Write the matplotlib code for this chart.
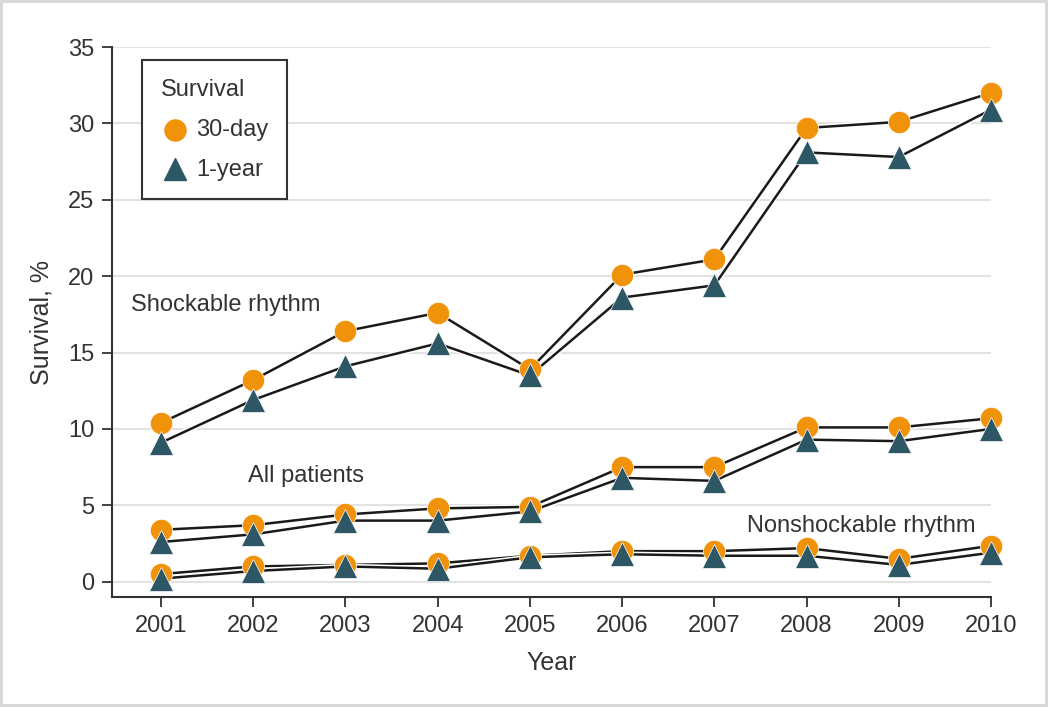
import numpy as np
import matplotlib
matplotlib.use("Agg")
import matplotlib.pyplot as plt
import matplotlib.patheffects as pe

plt.rcParams['font.family'] = ['Liberation Sans', 'DejaVu Sans']

years = [2001, 2002, 2003, 2004, 2005, 2006, 2007, 2008, 2009, 2010]

shock_30d = [10.4, 13.2, 16.4, 17.6, 13.9, 20.1, 21.1, 29.7, 30.1, 32.0]
shock_1y = [9.1, 11.9, 14.1, 15.6, 13.5, 18.6, 19.4, 28.1, 27.8, 30.9]
all_30d = [3.4, 3.7, 4.4, 4.8, 4.9, 7.5, 7.5, 10.1, 10.1, 10.7]
all_1y = [2.6, 3.1, 4.0, 4.0, 4.6, 6.8, 6.6, 9.3, 9.2, 10.0]
nonshock_30d = [0.5, 1.0, 1.1, 1.2, 1.7, 2.0, 2.0, 2.2, 1.5, 2.35]
nonshock_1y = [0.2, 0.7, 1.0, 0.85, 1.6, 1.8, 1.7, 1.7, 1.1, 1.9]

orange = '#F0920A'
teal = '#2E5766'
text_col = '#333333'

fig = plt.figure(figsize=(10.48, 7.07), dpi=100)
fig.patch.set_edgecolor('#d8d8d8')
fig.patch.set_linewidth(3)
ax = fig.add_axes([0.107, 0.1556, 0.8386, 0.7779])

halo = [pe.Stroke(linewidth=4, foreground='white'), pe.Normal()]

for y30, y1 in [(shock_30d, shock_1y), (all_30d, all_1y), (nonshock_30d, nonshock_1y)]:
    ax.plot(years, y30, color='#1a1a1a', lw=1.8, zorder=3, path_effects=halo, clip_on=False)
    ax.plot(years, y1, color='#1a1a1a', lw=1.8, zorder=3, path_effects=halo, clip_on=False)
    ax.plot(years, y30, 'o', color=orange, ms=16, mec='white', mew=0.5, zorder=4, clip_on=False)
    ax.plot(years, y1, '^', color=teal, ms=17, mec='white', mew=0.5, zorder=5, clip_on=False)

ax.set_xlim(2000.47, 2010)
ax.set_ylim(-1, 35)
ax.set_yticks(np.arange(0, 36, 5))
ax.set_xticks(years)
ax.yaxis.grid(True, color='#e2e2e2', lw=1.5)
ax.set_axisbelow(True)
for s in ['top', 'right']:
    ax.spines[s].set_visible(False)
for s in ['left', 'bottom']:
    ax.spines[s].set_color('#333333')
    ax.spines[s].set_linewidth(1.5)
ax.tick_params(axis='both', length=7, width=1.3, color='#333333', labelsize=17,
               labelcolor=text_col, pad=6)
ax.set_xlabel('Year', fontsize=18, color=text_col, labelpad=10)
ax.set_ylabel('Survival, %', fontsize=18, color=text_col, labelpad=10)

ax.text(2000.67, 18.1, 'Shockable rhythm', fontsize=17, color=text_col, va='center', ha='left')
ax.text(2001.94, 6.9, 'All patients', fontsize=17, color=text_col, va='center', ha='left')
ax.text(2009.83, 3.66, 'Nonshockable rhythm', fontsize=17, color=text_col, va='center', ha='right')

h1 = ax.scatter([], [], marker='o', s=230, color=orange)
h2 = ax.scatter([], [], marker='^', s=250, color=teal)
leg = ax.legend([h1, h2], ['30-day', '1-year'], title='Survival', loc='upper left',
                bbox_to_anchor=(0.034, 0.976), borderaxespad=0, fontsize=17, title_fontsize=17,
                frameon=True, fancybox=False, edgecolor='#333333', framealpha=1,
                handletextpad=0.3, borderpad=0.8, labelspacing=0.75, handlelength=1.2)
leg.get_frame().set_linewidth(1.5)
leg._legend_box.align = 'left'
for t in leg.get_texts():
    t.set_color(text_col)
leg.get_title().set_color(text_col)

fig.savefig('out.png', dpi=100)
